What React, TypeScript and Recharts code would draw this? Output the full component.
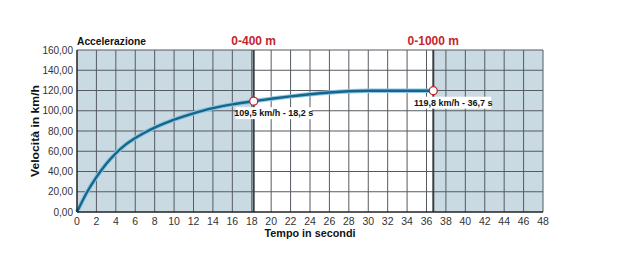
import React from 'react';
import {
  LineChart, Line, XAxis, YAxis, ReferenceArea, ReferenceLine, ReferenceDot, Label,
} from 'recharts';

const times = [0, 1, 2, 3, 4, 5, 6, 7, 8, 9, 10, 11, 12, 13, 14, 16, 18.2, 20, 22, 24, 26, 28, 30, 32, 34, 36.7];
const speeds = [0, 19, 34.5, 47.5, 58, 66.5, 73, 78.5, 83.3, 87.5, 91.2, 94.5, 97.5, 100.2, 102.6, 106.3, 109.5, 111.8, 114.2, 116.3, 118, 119.2, 119.7, 119.8, 119.8, 119.8];

const xTicks = [0, 2, 4, 6, 8, 10, 12, 14, 16, 18, 20, 22, 24, 26, 28, 30, 32, 34, 36, 38, 40, 42, 44, 46, 48];
const yTicks = [0, 20, 40, 60, 80, 100, 120, 140, 160];

const markerTimes = [18.2, 36.7];
const markerSpeeds = [109.5, 119.8];
const markerLabels = ['109,5 km/h - 18,2 s', '119,8 km/h - 36,7 s'];
const sectionLabels = ['0-400 m', '0-1000 m'];

const title = 'Accelerazione';
const xTitle = 'Tempo in secondi';
const yTitle = 'Velocità in km/h';

const data = times.map((t, i) => ({ t, v: speeds[i] }));

const FONT = '"Liberation Sans", Arial, sans-serif';
const GRID = '#555b61';
const SHADE = '#c9dae2';
const RED = '#c4262e';

const fmt = (v: number) => v.toFixed(2).replace('.', ',');

export default function App() {
  return (
    <div style={{ position: 'absolute', left: 0, top: 0, width: 630, height: 277, background: '#fff' }}>
      <LineChart width={630} height={277} data={data} margin={{ top: 50, right: 87, bottom: 35, left: 0 }}>
        <ReferenceArea x1={0} x2={markerTimes[0]} y1={0} y2={160} fill={SHADE} fillOpacity={1} stroke="none" ifOverflow="visible" />
        <ReferenceArea x1={markerTimes[1]} x2={48} y1={0} y2={160} fill={SHADE} fillOpacity={1} stroke="none" ifOverflow="visible" />
        {xTicks.slice(1).map((t) => (
          <ReferenceLine key={'gx' + t} x={t} stroke={GRID} strokeWidth={1} />
        ))}
        {yTicks.slice(1).map((t) => (
          <ReferenceLine key={'gy' + t} y={t} stroke={GRID} strokeWidth={1} />
        ))}
        <XAxis
          type="number"
          dataKey="t"
          domain={[0, 48]}
          ticks={xTicks}
          interval={0}
          height={30}
          axisLine={{ stroke: '#222', strokeWidth: 1.5 }}
          tickLine={false}
          tickMargin={0}
          tick={{ fill: '#333', fontSize: 10.5, fontFamily: FONT }}
        >
          <Label
            content={(p: any) => {
              const vb = p.viewBox;
              return (
                <text x={vb.x + vb.width / 2} y={vb.y + 25} textAnchor="middle" fontFamily={FONT} fontWeight="bold" fontSize={11} fill="#111" textLength={91} lengthAdjust="spacingAndGlyphs">
                  {xTitle}
                </text>
              );
            }}
          />
        </XAxis>
        <YAxis
          type="number"
          domain={[0, 160]}
          ticks={yTicks}
          interval={0}
          width={77}
          axisLine={{ stroke: '#222', strokeWidth: 1.5 }}
          tickLine={false}
          tickSize={2}
          tickMargin={2}
          tickFormatter={fmt}
          tick={{ fill: '#333', fontSize: 10, fontFamily: FONT }}
        >
          <Label
            content={(p: any) => {
              const vb = p.viewBox;
              const cx = vb.x + 35;
              const cy = vb.y + vb.height / 2;
              return (
                <text x={cx} y={cy} transform={`rotate(-90 ${cx} ${cy})`} textAnchor="middle" dominantBaseline="central" fontFamily={FONT} fontWeight="bold" fontSize={11} fill="#111" textLength={92} lengthAdjust="spacingAndGlyphs">
                  {yTitle}
                </text>
              );
            }}
          />
        </YAxis>
        <ReferenceLine
          x={0}
          stroke="none"
          label={(p: any) => {
            const vb = p.viewBox;
            return (
              <text x={vb.x} y={vb.y - 5} textAnchor="start" fontFamily={FONT} fontWeight="bold" fontSize={11.5} fill="#111" textLength={69} lengthAdjust="spacingAndGlyphs">
                {title}
              </text>
            );
          }}
        />
        {markerTimes.map((mt, i) => (
          <ReferenceLine
            key={'rl' + i}
            x={mt}
            stroke="#3a3f45"
            strokeWidth={2}
            label={(p: any) => {
              const vb = p.viewBox;
              return (
                <text x={vb.x} y={vb.y - 5} textAnchor="middle" fontFamily={FONT} fontWeight="bold" fontSize={12} fill={RED}>
                  {sectionLabels[i]}
                </text>
              );
            }}
          />
        ))}
        <Line
          type="monotone"
          dataKey="v"
          stroke="#8cc6e2"
          strokeWidth={4.5}
          dot={false}
          activeDot={false}
          isAnimationActive={false}
        />
        <Line
          type="monotone"
          dataKey="v"
          stroke="#17658a"
          strokeWidth={2.4}
          dot={false}
          activeDot={false}
          isAnimationActive={false}
        />
        {markerTimes.map((mt, i) => (
          <ReferenceDot
            key={'rd' + i}
            x={mt}
            y={markerSpeeds[i]}
            r={4}
            fill="#fff"
            stroke={RED}
            strokeWidth={1.3}
            label={(p: any) => {
              const vb = p.viewBox;
              const cx = vb.x + vb.width / 2 + 20;
              const cy = vb.y + vb.height / 2 + 12;
              return (
                <g>
                  <rect x={cx - 38} y={cy - 6} width={76} height={12} fill="#fff" />
                  <text x={cx} y={cy} textAnchor="middle" dominantBaseline="central" fontFamily={FONT} fontWeight="bold" fontSize={9} fill="#111">
                    {markerLabels[i]}
                  </text>
                </g>
              );
            }}
          />
        ))}
      </LineChart>
    </div>
  );
}
